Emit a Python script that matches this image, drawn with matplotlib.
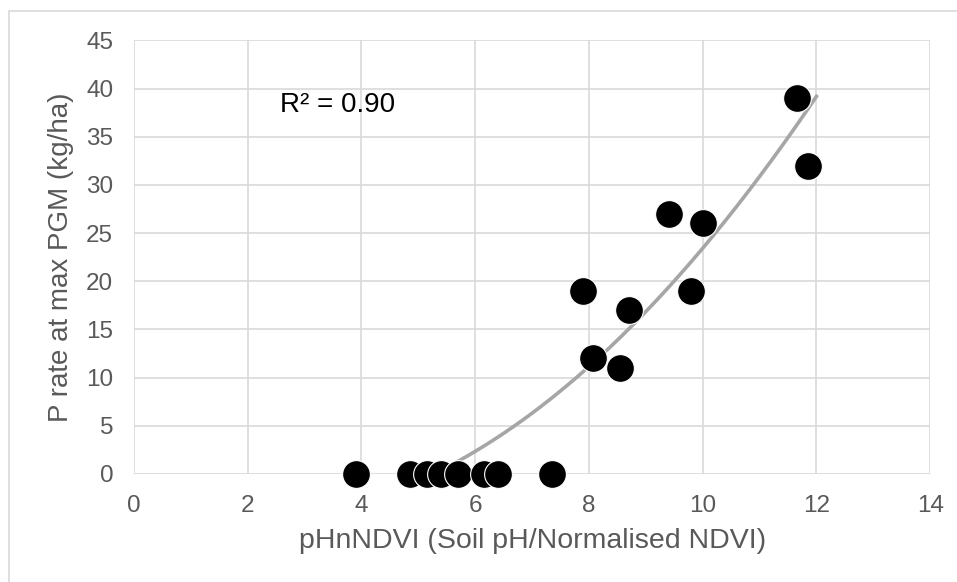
import numpy as np
import matplotlib.pyplot as plt

# data
ph_ndvi = [3.9, 4.85, 5.15, 5.4, 5.7, 6.15, 6.4, 7.35, 7.9, 8.07, 8.55, 8.7, 9.4, 9.8, 10.0, 11.65, 11.85]
p_rate = [0, 0, 0, 0, 0, 0, 0, 0, 19, 12, 11, 17, 27, 19, 26, 39, 32]
x_ticks = [0, 2, 4, 6, 8, 10, 12, 14]
y_ticks = [0, 5, 10, 15, 20, 25, 30, 35, 40, 45]
r2_label = "R² = 0.90"

plt.rcParams['font.family'] = ['Liberation Sans', 'DejaVu Sans']
grey_txt = '#595959'

fig = plt.figure(figsize=(9.57, 5.82), dpi=100)
ax = fig.add_axes([0.14, 0.1856, 0.832, 0.745])

# 2nd order polynomial trendline
coef = np.polyfit(ph_ndvi, p_rate, 2)
xs = np.linspace(min(ph_ndvi), 12, 200)
ys = np.polyval(coef, xs)
ax.plot(xs, ys, color='#a6a6a6', lw=2.6, zorder=2)

ax.scatter(ph_ndvi, p_rate, s=400, color='black', edgecolor='white', linewidth=0.8, zorder=3, clip_on=False)

ax.set_xlim(0, 14)
ax.set_ylim(0, 45)
ax.set_xticks(x_ticks)
ax.set_yticks(y_ticks)
ax.grid(True, color='#d9d9d9', lw=1.2)
ax.set_axisbelow(True)
for s in ax.spines.values():
    s.set_visible(False)
ax.tick_params(length=0, labelsize=17.5, labelcolor=grey_txt)
ax.tick_params(axis='x', pad=15)
ax.tick_params(axis='y', pad=15)

ax.set_xlabel('pHnNDVI (Soil pH/Normalised NDVI)', fontsize=20.5, color=grey_txt, labelpad=8)
ax.set_ylabel('P rate at max PGM (kg/ha)', fontsize=20, color=grey_txt, labelpad=9)

ax.text(2.57, 38.3, r2_label, fontsize=20, color='black', va='center', ha='left')

# light frame around the chart (right and bottom edges fall off the picture)
fig.patches.append(plt.Rectangle((9 / 957, -0.05), 1.1, 0.05 + 571 / 582, transform=fig.transFigure,
                                 fill=False, edgecolor='#d9d9d9', lw=1.2))

fig.savefig('out.png', dpi=100)
